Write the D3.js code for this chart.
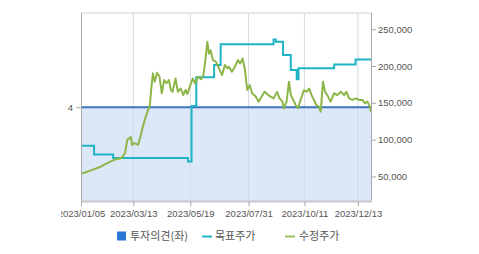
<!DOCTYPE html>
<html><head><meta charset="utf-8">
<script src="https://cdn.jsdelivr.net/npm/d3@7"></script>
<style>
html,body{margin:0;padding:0;background:#fff;}
svg{display:block;font-family:"Liberation Sans",Arial,sans-serif;}
</style></head>
<body>
<svg id="c" width="479" height="254"></svg>
<script>
// trading-day index positions of the date ticks and their labels
const tickDays = [0, 44, 92, 141, 188, 233];
const tickLabels = ["2023/01/05", "2023/03/13", "2023/05/19", "2023/07/31", "2023/10/11", "2023/12/13"];
const lastDay = 244;

// 투자의견 (left axis)
const opinionDays = [0, 244];
const opinion = [4, 4];

// 목표주가 (step line)
const targetDays = [0, 11, 27, 90, 93, 97, 112, 117.5, 162, 164, 170, 176.5, 181.5, 183, 213, 231, 244];
const target = [91600, 80000, 75000, 70300, 145700, 184600, 201300, 229700, 236000, 232800, 214800, 194500, 182000, 196800, 202000, 209000, 209000];

// 수정주가
const priceDays = [0,8,17,22,28,34,37,39,42,43,45,48,50,52,55,58,59,60.5,62,64,66,68,70,72,74,75.5,77,79.5,81.5,84,86,88,89.5,91.5,94,96,98.5,101,103,104.5,106.3,107.7,109,111,113.4,114.8,116.7,118.7,121,123,124.5,127,129.5,132,134,136,138,139,140,142,144,147,149.5,152,154.5,157.5,159.5,162,165,167,169.5,170.7,173,175,176.6,178.6,180.6,182.5,184.8,187.6,190,192,194,196,198,200,201.7,203.6,205.3,207.3,210,213,215.7,218.5,221.4,223.3,225.6,228.4,231.2,234,236.8,239,241,243,244];
const price = [53.7,58,63.6,68,72.6,75,81.7,99.7,103.4,93,95.2,93,104,117.7,133.6,147,167.4,190,178.7,190.9,186,163,181,176.6,181,167.4,165,183,165,169.5,160.6,167.4,162,172,183,176.6,185.4,182,187.7,205.7,232.8,217,221.5,208,206,201.5,194.5,187.7,201.5,197,199,192.2,199,208,203.5,210.3,194.5,178.7,167.4,174,163,158.5,151.6,158.5,165,160.5,158.5,156,165,156,151.6,142.6,151.6,178.7,160.5,154,147,142.6,154,167.4,165,169.5,160.5,154,147,145,138,178.7,165,160.5,151.6,163,160.5,165,160.5,165,156,154,156,154,154,149.4,151.6,145,138].map(v => v * 1000);

const rightTicks = [50000, 100000, 150000, 200000, 250000];
const leftTicks = [4];
const legendItems = ["투자의견(좌)", "목표주가", "수정주가"];

const L = 81, R = 371, T = 13, B = 201.5;
const svg = d3.select("#c");

svg.append("defs").append("clipPath").attr("id", "vis")
  .append("rect").attr("x", 61).attr("y", 0).attr("width", 418).attr("height", 254);
const root = svg.append("g").attr("clip-path", "url(#vis)");

const x = d3.scaleLinear().domain([0, lastDay]).range([L, R]);
const yL = d3.scaleLinear().domain([3, 5]).range([B, T]);
const yR = d3.scaleLinear().domain([16000, 272000]).range([B, T]);

// opinion area
const opData = opinionDays.map((d, i) => [d, opinion[i]]);
root.append("path").datum(opData)
  .attr("fill", "#dce7f7")
  .attr("d", d3.area().x(d => x(d[0])).y0(B).y1(d => yL(d[1])));

// vertical grid
root.append("g").selectAll("line").data(tickDays.slice(1)).join("line")
  .attr("x1", d => x(d)).attr("x2", d => x(d)).attr("y1", T).attr("y2", B)
  .attr("stroke", "#d3dbe5").attr("stroke-width", 1);

// opinion line
root.append("path").datum(opData)
  .attr("fill", "none").attr("stroke", "#3e72bd").attr("stroke-width", 2)
  .attr("d", d3.line().x(d => x(d[0])).y(d => yL(d[1])));

// target price
const tData = targetDays.map((d, i) => [d, target[i]]);
root.append("path").datum(tData)
  .attr("fill", "none").attr("stroke", "#1fb3c8").attr("stroke-width", 2)
  .attr("d", d3.line().curve(d3.curveStepAfter).x(d => x(d[0])).y(d => yR(d[1])));

// price
const pData = priceDays.map((d, i) => [d, price[i]]);
root.append("path").datum(pData)
  .attr("fill", "none").attr("stroke", "#8db649").attr("stroke-width", 2).attr("stroke-linejoin", "round")
  .attr("d", d3.line().x(d => x(d[0])).y(d => yR(d[1])));

// borders
root.append("line").attr("x1", L).attr("x2", R).attr("y1", T).attr("y2", T).attr("stroke", "#d0d0d0");
root.append("line").attr("x1", L + 0.5).attr("x2", L + 0.5).attr("y1", T).attr("y2", B).attr("stroke", "#a8a8a8");
root.append("line").attr("x1", R + 0.5).attr("x2", R + 0.5).attr("y1", T).attr("y2", B).attr("stroke", "#a8a8a8");
root.append("line").attr("x1", L).attr("x2", R + 1).attr("y1", B).attr("y2", B).attr("stroke", "#c4c8cc").attr("stroke-width", 2);

// axes
const axX = root.append("g").attr("transform", `translate(0,${B})`)
  .call(d3.axisBottom(x).tickValues(tickDays).tickFormat((d, i) => tickLabels[i]).tickSize(5).tickPadding(4));
const axR = root.append("g").attr("transform", `translate(${R + 1},0)`)
  .call(d3.axisRight(yR).tickValues(rightTicks).tickFormat(d3.format(",")).tickSize(4).tickPadding(2));
const axL = root.append("g").attr("transform", `translate(${L},0)`)
  .call(d3.axisLeft(yL).tickValues(leftTicks).tickFormat(d3.format("d")).tickSize(5).tickPadding(3));
[axX, axR, axL].forEach(a => {
  a.select(".domain").remove();
  a.selectAll(".tick line").attr("stroke", "#aaa");
  a.selectAll("text").attr("fill", "#555").style("font-size", "9.5px").style("font-family", "'Liberation Sans',Arial,sans-serif");
});

// legend
const lg = root.append("g").attr("font-family", "'Noto Sans CJK KR',sans-serif").attr("font-size", 11).attr("fill", "#555");
lg.append("rect").attr("x", 117).attr("y", 231.5).attr("width", 9).attr("height", 9).attr("fill", "#2a78d6");
lg.append("text").attr("x", 130).attr("y", 240).text(legendItems[0]);
lg.append("line").attr("x1", 202).attr("x2", 212).attr("y1", 236.5).attr("y2", 236.5).attr("stroke", "#1fb3c8").attr("stroke-width", 2);
lg.append("text").attr("x", 215).attr("y", 240).text(legendItems[1]);
lg.append("line").attr("x1", 285).attr("x2", 295).attr("y1", 236.5).attr("y2", 236.5).attr("stroke", "#9ac35a").attr("stroke-width", 2);
lg.append("text").attr("x", 299).attr("y", 240).text(legendItems[2]);
</script>
</body></html>
